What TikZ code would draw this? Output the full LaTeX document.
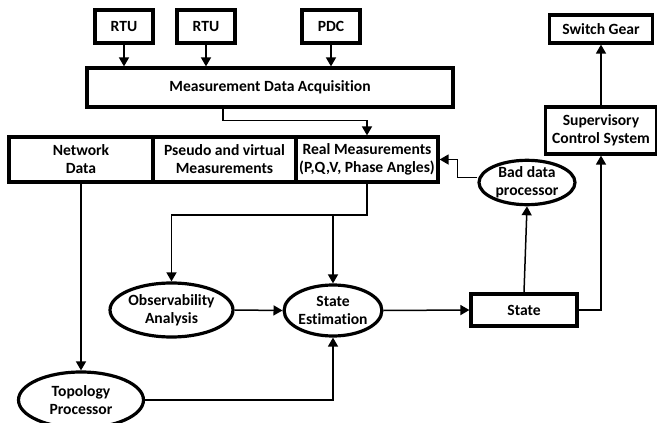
\documentclass[tikz,border=0pt]{standalone}
\usepackage{fontspec}
\setmainfont{Carlito}[Ligatures=NoCommon]
\usetikzlibrary{arrows.meta,shapes.geometric}
\begin{document}
\begin{tikzpicture}[x=1pt,y=-1pt,
  txt/.style={font=\fontsize{15.6}{18}\selectfont\bfseries, align=center, inner sep=0pt},
  box/.style={txt, draw, line width=3.2pt, rectangle},
  ell/.style={txt, draw, line width=3.2pt, ellipse},
  arr/.style={line width=1.5pt, -{Triangle[length=9pt,width=10pt]}},
  ln/.style={line width=1.5pt}]
\useasboundingbox (0,0) rectangle (657,423);
% top sources
\node[box, minimum width=58pt, minimum height=33pt] (rtu1) at (124,26.5) {RTU};
\node[box, minimum width=58pt, minimum height=33pt] (rtu2) at (206,26.5) {RTU};
\node[box, minimum width=58pt, minimum height=33pt] (pdc) at (331,26.5) {PDC};
\node[box, minimum width=366pt, minimum height=39pt] (mda) at (270,87.5) {Measurement Data Acquisition};
% measurement row
\node[box, minimum width=144pt, minimum height=45pt] (nd) at (81,159.5) {Network\\Data};
\node[box, minimum width=143pt, minimum height=45pt] (pv) at (224.5,159.5) {Pseudo and virtual\\Measurements};
\node[box, minimum width=142pt, minimum height=45pt] (rm) at (367,159.5) {Real Measurements\\(P,Q,V, Phase Angles)};
% right column
\node[box, minimum width=103pt, minimum height=28pt] (sg) at (601,29) {Switch Gear};
\node[box, minimum width=111pt, minimum height=47pt] (scs) at (601,130.5) {Supervisory\\Control System};
\node[ell, minimum width=96pt, minimum height=39pt] (bdp) at (527,182.5) {Bad data\\processor};
% processing
\node[ell, minimum width=123pt, minimum height=54pt] (obs) at (171.5,310) {Observability\\Analysis};
\node[ell, minimum width=96pt, minimum height=51pt] (se) at (333,310.5) {State\\Estimation};
\node[ell, minimum width=125pt, minimum height=56pt] (topo) at (81,400) {Topology\\Processor};
\node[box, minimum width=106pt, minimum height=32pt] (state) at (524,310) {State};
\coordinate (j) at (333,215);
% connectors
\draw[arr] (rtu1.south) -- (rtu1.south |- mda.north);
\draw[arr] (rtu2.south) -- (rtu2.south |- mda.north);
\draw[arr] (pdc.south) -- (pdc.south |- mda.north);
\draw[arr] ([xshift=-47pt]mda.south) -- ++(0,12) -| (rm.north);
\draw[arr] (nd.south) -- (nd.south |- topo.north);
\draw[arr] (rm.south) |- (j) -| (obs.north);
\draw[arr] (j) -- (se.north);
\draw[arr] (obs.east) -- (se.west);
\draw[arr] (se.east) -- (state.west);
\draw[arr] (topo.east) -| (se.south);
\draw[arr] (state.north) -- (bdp.south);
\draw[arr] (state.east) -| (scs.south);
\draw[arr] (scs.north) -- (sg.south);
\draw[arr] ([yshift=5pt]bdp.west) -- ++(-20,0) |- (rm.east);
\end{tikzpicture}
\end{document}
